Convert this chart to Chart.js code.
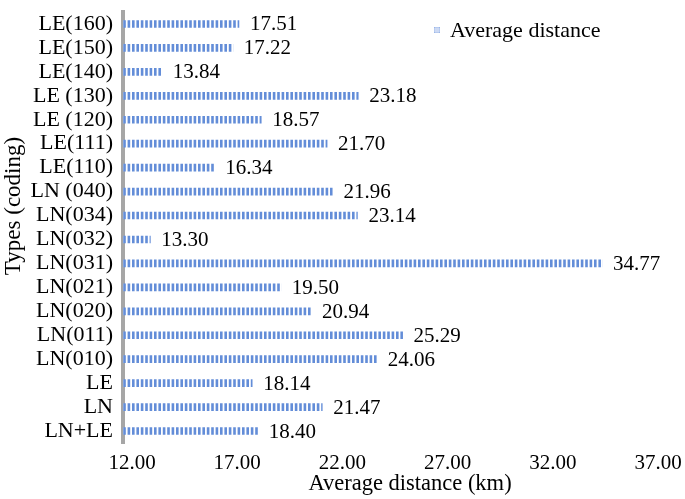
<!DOCTYPE html>
<html>
<head>
<meta charset="utf-8">
<script src="https://cdn.jsdelivr.net/npm/chart.js@4.4.1/dist/chart.umd.min.js"></script>
<style>
html,body{margin:0;padding:0;background:#fff;}
#wrap{width:685px;height:499px;position:relative;}
</style>
</head>
<body>
<div id="wrap"><canvas id="c" width="685" height="499"></canvas></div>
<script>
const categories = ["LE(160)","LE(150)","LE(140)","LE (130)","LE (120)","LE(111)","LE(110)","LN (040)","LN(034)","LN(032)","LN(031)","LN(021)","LN(020)","LN(011)","LN(010)","LE","LN","LN+LE"];
const averageDistance = [17.51,17.22,13.84,23.18,18.57,21.70,16.34,21.96,23.14,13.30,34.77,19.50,20.94,25.29,24.06,18.14,21.47,18.40];
const xTicks = [12,17,22,27,32,37];
const seriesName = "Average distance";
const xTitle = "Average distance (km)";
const yTitle = "Types (coding)";

const FONT = "'Liberation Serif', 'Times New Roman', serif";

function makePattern(){
  const p = document.createElement('canvas');
  p.width = 22; p.height = 8;
  const g = p.getContext('2d');
  g.fillStyle = '#ffffff';
  g.fillRect(0,0,22,8);
  for(let i=0;i<5;i++){
    g.fillStyle = '#638dd8';
    g.fillRect(i*4.4, 0, 2.6, 8);
  }
  return g.createPattern(p,'repeat');
}
const ctx0 = document.getElementById('c').getContext('2d');
const pattern = makePattern();

const labelPlugin = {
  id:'extras',
  afterDatasetsDraw(chart){
    const ctx = chart.ctx;
    const meta = chart.getDatasetMeta(0);
    ctx.save();
    ctx.font = "21px " + FONT;
    ctx.fillStyle = '#000';
    ctx.textAlign = 'left';
    ctx.textBaseline = 'middle';
    meta.data.forEach((bar,i)=>{
      ctx.fillText(averageDistance[i].toFixed(2), bar.x + 11, bar.y + 1);
    });
    // legend
    ctx.fillStyle = '#9ab6e8';
    ctx.fillRect(434, 27, 6, 6);
    ctx.strokeStyle = '#ffffff';
    ctx.lineWidth = 0.6;
    ctx.beginPath();
    ctx.moveTo(436,27); ctx.lineTo(436,33);
    ctx.moveTo(438,27); ctx.lineTo(438,33);
    ctx.moveTo(434,29); ctx.lineTo(440,29);
    ctx.moveTo(434,31); ctx.lineTo(440,31);
    ctx.stroke();
    ctx.fillStyle = '#000';
    ctx.font = "22px " + FONT;
    ctx.fillText(seriesName, 450, 31);
    // x title
    ctx.textAlign = 'center';
    ctx.font = "22.5px " + FONT;
    ctx.fillText(xTitle, 410, 484);
    // y title
    ctx.translate(14, 206);
    ctx.rotate(-Math.PI/2);
    ctx.font = "23px " + FONT;
    ctx.fillText(yTitle, 0, 0);
    ctx.restore();
  }
};

new Chart(ctx0, {
  type:'bar',
  data:{
    labels: categories,
    datasets:[{
      label: seriesName,
      data: averageDistance,
      backgroundColor: pattern,
      borderWidth: 0,
      barThickness: 7
    }]
  },
  options:{
    indexAxis:'y',
    responsive:false,
    animation:false,
    devicePixelRatio:1,
    layout:{padding:{top:12,right:36,bottom:0,left:0}},
    plugins:{legend:{display:false},tooltip:{enabled:false}},
    scales:{
      x:{
        type:'linear',
        min:12, max:37,
        afterBuildTicks(s){ s.ticks = xTicks.map(v=>({value:v})); },
        afterFit(s){ s.height = 56; s.paddingLeft = 0; s.paddingRight = 0; },
        grid:{display:false, drawTicks:false},
        border:{display:false},
        ticks:{
          font:{family:FONT,size:21},
          color:'#000',
          padding:8,
          labelOffset:9,
          maxRotation:0,
          callback:(v)=>Number(v).toFixed(2)
        }
      },
      y:{
        afterFit(s){ s.width = 123; s.paddingTop = 0; s.paddingBottom = 0; },
        grid:{display:false, drawTicks:false},
        border:{display:true, color:'#a6a6a6', width:4},
        ticks:{font:{family:FONT,size:22}, color:'#000', padding:10, autoSkip:false}
      }
    }
  },
  plugins:[labelPlugin]
});
</script>
</body>
</html>
